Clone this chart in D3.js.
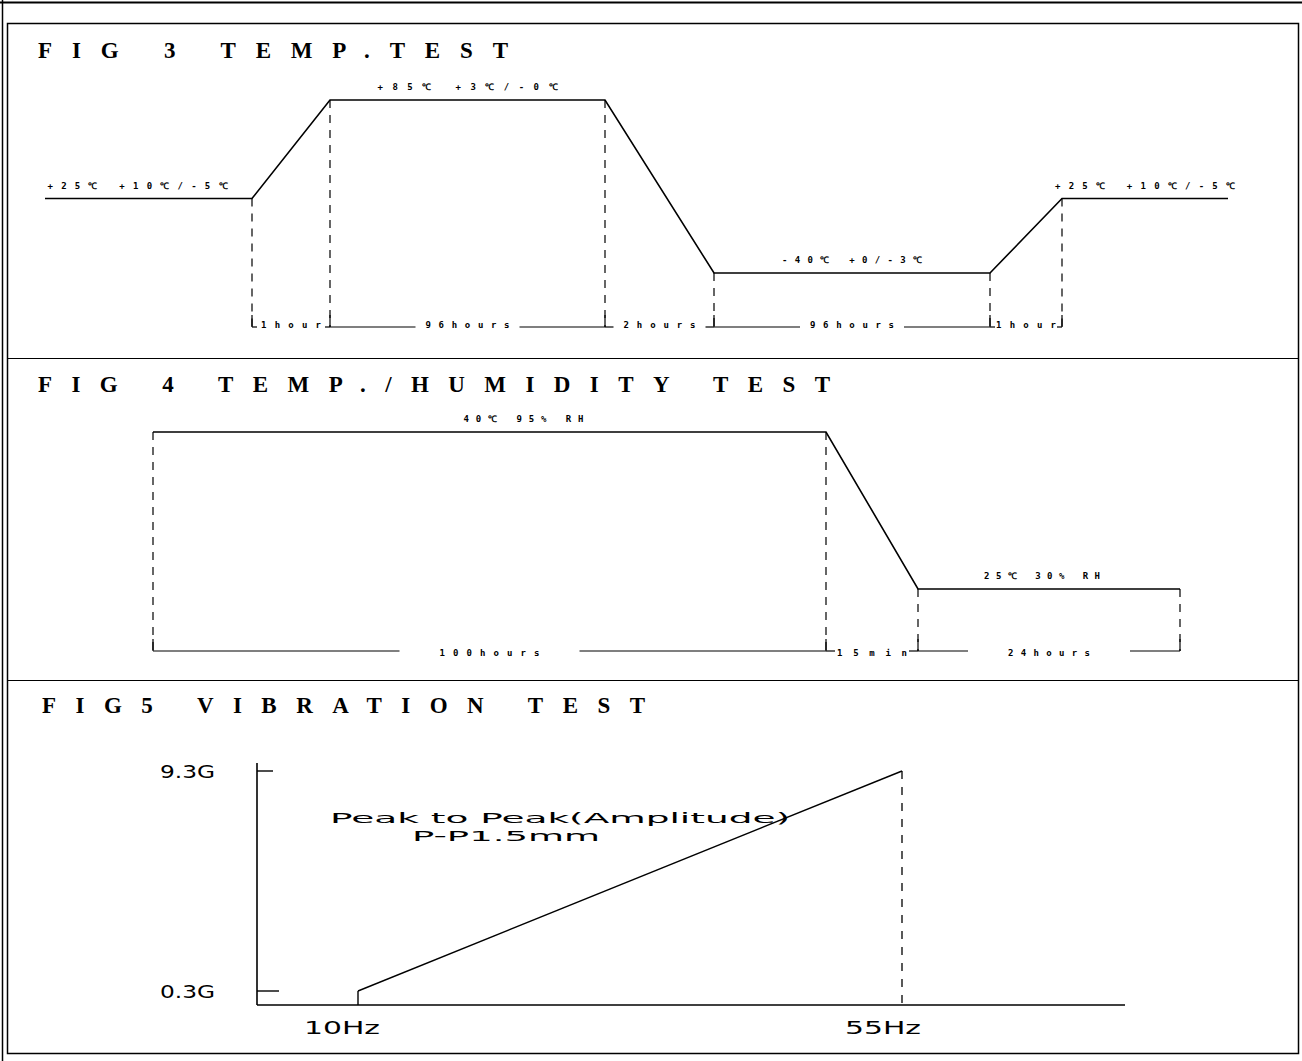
<!DOCTYPE html>
<html><head><meta charset="utf-8">
<script src="https://cdn.jsdelivr.net/npm/d3@7"></script>
<style>body{margin:0;background:#fff}svg{display:block}</style>
</head><body>
<script>
// ---------- DATA ----------
// FIG 3: temperature profile (schematic segments)
const fig3Segments = ["lead", "1hour", "96hours", "2hours", "96hours", "1hour", "tail"];
const fig3SegWidths = [2.07, 0.78, 2.75, 1.09, 2.76, 0.72, 1.66]; // schematic units
const fig3Levels = [25, 25, 85, 85, -40, -40, 25, 25]; // °C at each breakpoint
const fig3LevelLabels = ["+25℃ +10℃/-5℃", "+85℃ +3℃/-0℃", "-40℃ +0/-3℃", "+25℃ +10℃/-5℃"];
const fig3DurLabels = ["1hour", "96hours", "2hours", "96hours", "1hour"];

// FIG 4: temperature / humidity profile
const fig4SegWidths = [6.73, 0.92, 2.62]; // 100h plateau, 15min ramp, 24h plateau
const fig4Levels = [40, 40, 25, 25];
const fig4LevelLabels = ["40℃ 95% RH", "25℃ 30% RH"];
const fig4DurLabels = ["100hours", "15min", "24hours"];

// FIG 5: vibration sweep
const fig5Freq = [10, 55];          // Hz
const fig5Accel = [0.3, 9.3];       // G
const fig5XTicks = ["10Hz", "55Hz"];
const fig5YTicks = ["0.3G", "9.3G"];
const fig5Note = ["Peak to Peak(Amplitude)", "P-P1.5mm"];

const titles = ["FIG 3  TEMP.TEST", "FIG 4  TEMP./HUMIDITY TEST", "FIG5 VIBRATION TEST"];

// ---------- DRAW ----------
const W = 1302, H = 1061;
const svg = d3.select("body").append("svg").attr("width", W).attr("height", H);
const ink = "#000";

// frame
svg.append("line").attr("x1", 0).attr("x2", W).attr("y1", 2.5).attr("y2", 2.5).attr("stroke", ink).attr("stroke-width", 2);
svg.append("line").attr("x1", 2.5).attr("x2", 2.5).attr("y1", 0).attr("y2", H).attr("stroke", ink).attr("stroke-width", 1.5);
svg.append("rect").attr("x", 7.5).attr("y", 23.5).attr("width", 1291).attr("height", 1030)
  .attr("fill", "none").attr("stroke", ink).attr("stroke-width", 1.5);
[358.5, 680.5].forEach(y => svg.append("line").attr("x1", 7).attr("x2", 1299).attr("y1", y).attr("y2", y).attr("stroke", ink).attr("stroke-width", 1.2));

// titles
const titleSpec = [
  {x: 38, y: 58, len: 470},
  {x: 38, y: 392, len: 792},
  {x: 42, y: 713, len: 603}
];
titles.forEach((t, i) => {
  svg.append("text").attr("x", titleSpec[i].x).attr("y", titleSpec[i].y)
    .attr("font-family", "Liberation Serif, DejaVu Serif, serif").attr("font-weight", "bold")
    .attr("font-size", 23).attr("textLength", titleSpec[i].len).attr("lengthAdjust", "spacing")
    .attr("fill", ink).text(t);
});

function smallText(g, str, cx, y, len) {
  g.append("text").attr("x", cx - len / 2).attr("y", y)
    .attr("font-family", "DejaVu Sans Mono, monospace").attr("font-weight", "bold")
    .attr("font-size", 9).attr("textLength", len).attr("lengthAdjust", "spacing")
    .attr("fill", ink).text(str);
}

// ---- FIG 3 ----
{
  const g = svg.append("g");
  const cum = [0]; fig3SegWidths.forEach(w => cum.push(cum[cum.length - 1] + w));
  const x = d3.scaleLinear().domain([0, cum[cum.length - 1]]).range([45, 1228]);
  const y = d3.scaleLinear().domain([-40, 25, 85]).range([273, 198.5, 100]);
  const pts = cum.map((c, i) => [x(c), y(fig3Levels[i])]);
  g.append("path").attr("d", d3.line()(pts)).attr("fill", "none").attr("stroke", ink).attr("stroke-width", 1.6);
  const yb = 327;
  for (let i = 1; i < cum.length - 1; i++) {
    g.append("line").attr("x1", pts[i][0]).attr("x2", pts[i][0]).attr("y1", pts[i][1]).attr("y2", yb)
      .attr("stroke", ink).attr("stroke-width", 1.2).attr("stroke-dasharray", "8,7");
    g.append("line").attr("x1", pts[i][0]).attr("x2", pts[i][0]).attr("y1", yb - 12).attr("y2", yb)
      .attr("stroke", ink).attr("stroke-width", 1.2);
  }
  fig3DurLabels.forEach((lab, k) => {
    const a = pts[k + 1][0], b = pts[k + 2][0], mid = (a + b) / 2;
    const tl = Math.min(b - a - 12, lab.length * 12);
    smallText(g, lab, mid, yb + 1, tl);
    const gap = tl / 2 + 10;
    if (b - a > tl + 30) {
      g.append("line").attr("x1", a).attr("x2", mid - gap).attr("y1", yb).attr("y2", yb).attr("stroke", ink).attr("stroke-width", 1.2);
      g.append("line").attr("x1", mid + gap).attr("x2", b).attr("y1", yb).attr("y2", yb).attr("stroke", ink).attr("stroke-width", 1.2);
    } else {
      g.append("line").attr("x1", a).attr("x2", a + 5).attr("y1", yb).attr("y2", yb).attr("stroke", ink).attr("stroke-width", 1.2);
      g.append("line").attr("x1", b - 5).attr("x2", b).attr("y1", yb).attr("y2", yb).attr("stroke", ink).attr("stroke-width", 1.2);
    }
  });
  const offs = [-11, 0, 0, 0];
  [[0, 1], [2, 3], [4, 5], [6, 7]].forEach(([a, b], k) => {
    const mid = (pts[a][0] + pts[b][0]) / 2 + offs[k];
    smallText(g, fig3LevelLabels[k], mid, pts[a][1] - 10, k === 2 ? 140 : 180);
  });
}

// ---- FIG 4 ----
{
  const g = svg.append("g");
  const cum = [0]; fig4SegWidths.forEach(w => cum.push(cum[cum.length - 1] + w));
  const x = d3.scaleLinear().domain([0, cum[cum.length - 1]]).range([153, 1180]);
  const y = d3.scaleLinear().domain([25, 40]).range([589, 432]);
  const pts = cum.map((c, i) => [x(c), y(fig4Levels[i])]);
  g.append("path").attr("d", d3.line()(pts)).attr("fill", "none").attr("stroke", ink).attr("stroke-width", 1.6);
  const yb = 651;
  pts.forEach(p => {
    g.append("line").attr("x1", p[0]).attr("x2", p[0]).attr("y1", p[1]).attr("y2", yb)
      .attr("stroke", ink).attr("stroke-width", 1.2).attr("stroke-dasharray", "8,7");
    g.append("line").attr("x1", p[0]).attr("x2", p[0]).attr("y1", yb - 12).attr("y2", yb)
      .attr("stroke", ink).attr("stroke-width", 1.2);
  });
  const tls = [100, 70, 82];
  fig4DurLabels.forEach((lab, k) => {
    const a = pts[k][0], b = pts[k + 1][0], mid = (a + b) / 2, tl = tls[k];
    smallText(g, lab, mid, yb + 5, tl);
    const gap = k === 1 ? tl / 2 + 2 : tl / 2 + 40;
    g.append("line").attr("x1", a).attr("x2", mid - gap).attr("y1", yb).attr("y2", yb).attr("stroke", ink).attr("stroke-width", 1.2);
    g.append("line").attr("x1", mid + gap).attr("x2", b).attr("y1", yb).attr("y2", yb).attr("stroke", ink).attr("stroke-width", 1.2);
  });
  smallText(g, fig4LevelLabels[0], (pts[0][0] + pts[1][0]) / 2 + 34, pts[0][1] - 10, 120);
  smallText(g, fig4LevelLabels[1], (pts[2][0] + pts[3][0]) / 2 - 7, pts[2][1] - 10, 116);
}

// ---- FIG 5 ----
{
  const g = svg.append("g");
  const x = d3.scaleLinear().domain([10, 55]).range([358, 902]);
  const y = d3.scaleLinear().domain([0.3, 9.3]).range([991, 771]);
  const x0 = 257, y0 = 1005, x1 = 1125;
  g.append("line").attr("x1", x0).attr("x2", x1).attr("y1", y0).attr("y2", y0).attr("stroke", ink).attr("stroke-width", 1.6);
  g.append("line").attr("x1", x0).attr("x2", x0).attr("y1", y(9.3) - 8).attr("y2", y0).attr("stroke", ink).attr("stroke-width", 1.6);
  const fam = "DejaVu Sans, sans-serif";
  fig5YTicks.forEach((t, i) => {
    const yy = y(fig5Accel[i]);
    g.append("line").attr("x1", x0).attr("x2", x0 + (i === 0 ? 22 : 16)).attr("y1", yy).attr("y2", yy).attr("stroke", ink).attr("stroke-width", 1.4);
    g.append("text").attr("x", 160).attr("y", yy + 7).attr("font-family", fam).attr("font-size", 18)
      .attr("textLength", 55).attr("lengthAdjust", "spacingAndGlyphs").attr("fill", ink).text(t);
  });
  const pts = fig5Freq.map((f, i) => [x(f), y(fig5Accel[i])]);
  g.append("path").attr("d", d3.line()(pts)).attr("fill", "none").attr("stroke", ink).attr("stroke-width", 1.4);
  g.append("line").attr("x1", pts[0][0]).attr("x2", pts[0][0]).attr("y1", pts[0][1]).attr("y2", y0).attr("stroke", ink).attr("stroke-width", 1.4);
  g.append("line").attr("x1", pts[1][0]).attr("x2", pts[1][0]).attr("y1", pts[1][1]).attr("y2", y0)
    .attr("stroke", ink).attr("stroke-width", 1.3).attr("stroke-dasharray", "8,8");
  fig5XTicks.forEach((t, i) => {
    g.append("text").attr("x", x(fig5Freq[i]) + (i === 0 ? -54 : -57)).attr("y", 1034)
      .attr("font-family", fam).attr("font-size", 18)
      .attr("textLength", 76).attr("lengthAdjust", "spacingAndGlyphs").attr("fill", ink).text(t);
  });
  g.append("text").attr("x", 330).attr("y", 823).attr("font-family", fam).attr("font-size", 14)
    .attr("textLength", 460).attr("lengthAdjust", "spacingAndGlyphs").attr("fill", ink).text(fig5Note[0]);
  g.append("text").attr("x", 412).attr("y", 841).attr("font-family", fam).attr("font-size", 14)
    .attr("textLength", 188).attr("lengthAdjust", "spacingAndGlyphs").attr("fill", ink).text(fig5Note[1]);
}
</script>
</body></html>
